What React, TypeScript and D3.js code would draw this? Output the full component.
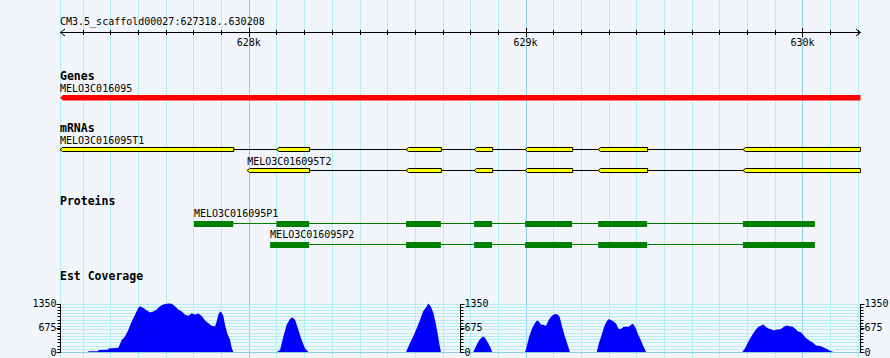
import React from 'react';
import * as d3 from 'd3';

const svgWidth = 890;
const svgHeight = 358;

// region shown
const refName = 'CM3.5_scaffold00027';
const regionStart = 627318;
const regionEnd = 630208;

// gene track
const geneName = 'MELO3C016095';
const geneSpan = [627318, 630208];

// mRNA track (minus strand)
const t1Name = 'MELO3C016095T1';
const t1Exons = [
  [627318, 627944], [628100, 628218], [628568, 628694], [628814, 628879],
  [628998, 629168], [629262, 629439], [629785, 630208],
];
const t2Name = 'MELO3C016095T2';
const t2Exons = [
  [627994, 628218], [628568, 628694], [628814, 628879],
  [628998, 629168], [629262, 629439], [629785, 630208],
];

// protein track
const p1Name = 'MELO3C016095P1';
const p1Cds = [
  [627802, 627944], [628100, 628218], [628568, 628694], [628814, 628879],
  [628998, 629168], [629262, 629439], [629785, 630045],
];
const p2Name = 'MELO3C016095P2';
const p2Cds = [
  [628077, 628218], [628568, 628694], [628814, 628879],
  [628998, 629168], [629262, 629439], [629785, 630045],
];

// est coverage
const covMax = 1350;
const covTicks = [0, 675, 1350];
const covPeaks = [
  [[627420, 18], [627456, 18], [627457, 56], [627492, 60], [627493, 100], [627529, 120],
   [627541, 337], [627553, 430], [627565, 619], [627577, 852], [627589, 1040], [627601, 1226],
   [627607, 1274], [627619, 1226], [627631, 1160], [627643, 1100], [627655, 1130], [627667, 1180],
   [627679, 1274], [627691, 1320], [627709, 1350], [627722, 1340], [627733, 1274], [627745, 1180],
   [627758, 1130], [627770, 1040], [627782, 1010], [627794, 1080], [627806, 1040], [627818, 1070],
   [627830, 1000], [627842, 880], [627854, 800], [627866, 730], [627878, 710], [627884, 850],
   [627890, 1040], [627896, 1130], [627902, 1100], [627908, 1000], [627914, 760], [627922, 520],
   [627932, 340], [627939, 100], [627944, 0]],
  [[628101, 0], [628113, 56], [628125, 431], [628137, 759], [628149, 919], [628157, 966],
   [628167, 900], [628179, 619], [628191, 337], [628203, 103], [628215, 0]],
  [[628568, 0], [628582, 244], [628594, 431], [628607, 666], [628619, 900], [628630, 1134],
   [628643, 1275], [628649, 1350], [628657, 1275], [628667, 1088], [628675, 806], [628682, 525],
   [628688, 244], [628694, 0]],
  [[628811, 0], [628823, 197], [628833, 337], [628845, 430], [628853, 400], [628865, 244],
   [628874, 103], [628879, 0]],
  [[628998, 0], [629004, 150], [629013, 431], [629024, 666], [629034, 806], [629042, 881],
   [629050, 825], [629056, 759], [629064, 759], [629070, 731], [629076, 759], [629083, 881],
   [629091, 975], [629098, 1022], [629106, 1059], [629115, 1041], [629122, 994], [629127, 853],
   [629133, 666], [629142, 431], [629152, 197], [629160, 0]],
  [[629257, 0], [629265, 244], [629275, 478], [629284, 712], [629293, 853], [629301, 919],
   [629309, 881], [629317, 853], [629327, 787], [629335, 647], [629344, 637], [629353, 694],
   [629363, 712], [629371, 694], [629380, 750], [629387, 787], [629393, 731], [629399, 637],
   [629407, 478], [629416, 337], [629425, 169], [629435, 0]],
  [[629783, 0], [629793, 103], [629805, 291], [629817, 450], [629829, 600], [629841, 700],
   [629853, 745], [629859, 765], [629867, 700], [629877, 655], [629889, 625], [629897, 600],
   [629907, 625], [629917, 625], [629925, 655], [629933, 700], [629943, 740], [629953, 720],
   [629965, 700], [629973, 655], [629983, 580], [629994, 550], [630003, 478], [630013, 384],
   [630025, 319], [630037, 262], [630049, 178], [630064, 169], [630075, 131], [630088, 84],
   [630100, 37], [630112, 0]],
];

const bg = '#f2f5fa';
const gridMinor = '#b2eef3';
const gridMajor = '#94cbe4';
const mono = '"DejaVu Sans Mono", monospace';

const App = () => {
  const x = d3.scaleLinear().domain([regionStart, regionEnd]).range([60, 860]);
  const y = d3.scaleLinear().domain([0, covMax]).range([352, 303.5]);
  const px = v => Math.round(x(v)) + 0.5;

  const gridPos = d3.range(Math.ceil(regionStart / 100) * 100, regionEnd, 100);
  const hGrid = d3.range(0, covMax + 1, 90);

  const area = d3.area()
    .x(d => x(d[0]))
    .y0(y(0))
    .y1(d => y(d[1]));

  // minus-strand exon: small point on the left end
  const exonPath = (s, e, yc, h) => {
    const x0 = x(s), x1 = Math.min(x(e), 860) + 0.5;
    const t = yc - h / 2, b = yc + h / 2;
    return `M${x0},${yc}L${x0 + 2.5},${t}L${x1},${t}L${x1},${b}L${x0 + 2.5},${b}Z`;
  };

  const transcript = (exons, yc, key) => (
    <g key={key}>
      {exons.slice(1).map((ex, i) => (
        <line key={i} x1={x(exons[i][1])} x2={x(ex[0])} y1={yc} y2={yc} stroke="#000" />
      ))}
      {exons.map((ex, i) => (
        <path key={'e' + i} d={exonPath(ex[0], ex[1], yc, 4)} fill="#ffff00" stroke="#000" strokeWidth={1} />
      ))}
    </g>
  );

  const protein = (cds, top, key) => (
    <g key={key}>
      {cds.slice(1).map((c, i) => (
        <line key={i} x1={x(cds[i][1])} x2={x(c[0])} y1={top + 2.5} y2={top + 2.5} stroke="#008000" />
      ))}
      {cds.map((c, i) => (
        <rect key={'c' + i} x={x(c[0])} y={top} width={x(c[1]) - x(c[0])} height={6} fill="#008000" />
      ))}
    </g>
  );

  const yAxis = (ax, side, key) => (
    <g key={key}>
      <line x1={ax} x2={ax} y1={Math.round(y(covMax))} y2={Math.round(y(0)) + 1} stroke="#000" />
      {hGrid.map(v => (
        <line key={v} x1={ax} x2={ax + side * 3} y1={Math.round(y(v)) + 0.5} y2={Math.round(y(v)) + 0.5} stroke="#000" />
      ))}
      {covTicks.map(v => (
        <g key={'t' + v}>
          <line x1={ax} x2={ax + side * 4} y1={Math.round(y(v)) + 0.5} y2={Math.round(y(v)) + 0.5} stroke="#000" />
          <text x={ax + side * 4} y={y(v) + 3.5} fontSize={10} fontFamily={mono}
            textAnchor={side < 0 ? 'end' : 'start'}>{v}</text>
        </g>
      ))}
    </g>
  );

  const boldLabel = (txt, yy) => (
    <text x={60} y={yy} fontSize={11.5} fontWeight="bold" fontFamily={mono}>{txt}</text>
  );
  const label = (txt, xx, yy) => (
    <text x={xx} y={yy} fontSize={10} fontFamily={mono}>{txt}</text>
  );

  return (
    <svg width={svgWidth} height={svgHeight} style={{ position: 'absolute', left: 0, top: 0, display: 'block' }}>
      <rect width={svgWidth} height={svgHeight} fill={bg} />

      {/* vertical grid */}
      <line x1={60.5} x2={60.5} y1={0} y2={svgHeight} stroke={gridMinor} />
      {gridPos.map(p => (
        <line key={p} x1={px(p)} x2={px(p)} y1={0} y2={svgHeight}
          stroke={p % 1000 === 0 ? gridMajor : gridMinor} />
      ))}

      {/* ruler */}
      {label(`${refName}:${regionStart}..${regionEnd}`, 60, 25)}
      <line x1={60} x2={860} y1={32.5} y2={32.5} stroke="#000" />
      <path d="M65,29L60.5,32.5L65,36" fill="none" stroke="#000" />
      <path d="M856,29L860.5,32.5L856,36" fill="none" stroke="#000" />
      {gridPos.map(p => (
        <line key={'k' + p} x1={px(p)} x2={px(p)} y1={p % 1000 === 0 ? 28 : 30} y2={p % 1000 === 0 ? 37 : 35} stroke="#000" />
      ))}
      {gridPos.filter(p => p % 1000 === 0).map(p => (
        <text key={'l' + p} x={x(p)} y={46} fontSize={10} fontFamily={mono} textAnchor="middle">{`${p / 1000}k`}</text>
      ))}

      {/* genes */}
      {boldLabel('Genes', 80)}
      {label(geneName, 60, 92)}
      <path d={`M${x(geneSpan[0])},97.75L${x(geneSpan[0]) + 3},95L${x(geneSpan[1]) + 0.5},95L${x(geneSpan[1]) + 0.5},100.5L${x(geneSpan[0]) + 3},100.5Z`} fill="#ff0000" />

      {/* mRNAs */}
      {boldLabel('mRNAs', 132)}
      {label(t1Name, x(t1Exons[0][0]), 144)}
      {transcript(t1Exons, 149.5, 't1')}
      {label(t2Name, x(t2Exons[0][0]), 165)}
      {transcript(t2Exons, 170.5, 't2')}

      {/* proteins */}
      {boldLabel('Proteins', 205)}
      {label(p1Name, x(p1Cds[0][0]), 217)}
      {protein(p1Cds, 221, 'p1')}
      {label(p2Name, x(p2Cds[0][0]), 238)}
      {protein(p2Cds, 242, 'p2')}

      {/* est coverage */}
      {boldLabel('Est Coverage', 280)}
      {hGrid.map(v => (
        <line key={'h' + v} x1={60} x2={860} y1={Math.round(y(v)) + 0.5} y2={Math.round(y(v)) + 0.5}
          stroke={v === 0 ? gridMajor : gridMinor} />
      ))}
      {covPeaks.map((pk, i) => (
        <path key={'pk' + i} d={area(pk)} fill="#0000ff" />
      ))}
      {yAxis(60.5, -1, 'axL')}
      {yAxis(460.5, 1, 'axM')}
      {yAxis(860.5, 1, 'axR')}
    </svg>
  );
};

export default App;
